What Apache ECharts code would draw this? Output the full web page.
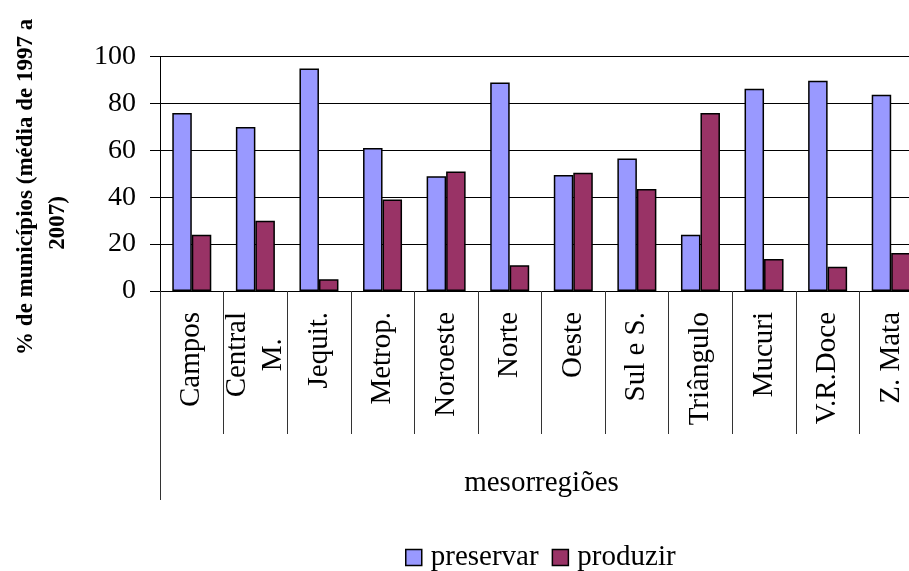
<!DOCTYPE html>
<html>
<head>
<meta charset="utf-8">
<script src="https://cdn.jsdelivr.net/npm/echarts@6/dist/echarts.min.js"></script>
<style>
  html, body { margin: 0; padding: 0; background: #fff; }
  #chart { width: 909px; height: 571px; }
</style>
</head>
<body>
<div id="chart"></div>
<script>
// Mesorregiões and the share of municípios in each group (average 1997–2007)
const categories = ['Campos', 'Central\nM.', 'Jequit.', 'Metrop.', 'Noroeste', 'Norte',
  'Oeste', 'Sul e S.', 'Triângulo', 'Mucuri', 'V.R.Doce', 'Z. Mata'];
const preservar = [76, 70, 95, 61, 49, 89, 49.5, 56.5, 24, 86.3, 89.7, 83.8];
const produzir  = [24, 30, 5, 39, 51, 11, 50.5, 43.5, 76, 13.7, 10.3, 16.2];
const seriesNames = ['preservar', 'produzir'];
const yTicks = { min: 0, max: 100, interval: 20 };
const xTitle = 'mesorregiões';
const yTitleLines = ['% de municípios (média de 1997 a', '2007)'];

const SERIF = '"Liberation Serif", "Times New Roman", serif';
const chart = echarts.init(document.getElementById('chart'), null, { renderer: 'canvas' });

const titleStyle = { fontFamily: SERIF, fontSize: 23, fontWeight: 'bold', color: '#000', lineHeight: 32, align: 'center' };

chart.setOption({
  backgroundColor: '#ffffff',
  animation: false,
  grid: { left: 160, top: 56.7, width: 763, height: 234.3, containLabel: false, outerBoundsMode: 'none' },
  legend: {
    data: seriesNames,
    left: 400, top: 538,
    itemWidth: 16, itemHeight: 16, itemGap: 13,
    icon: 'rect',
    itemStyle: { borderColor: '#000', borderWidth: 1.5 },
    textStyle: { fontFamily: SERIF, fontSize: 29, color: '#000', padding: [0, 0, 0, 4] }
  },
  xAxis: [
    {
      type: 'category',
      data: categories,
      position: 'bottom',
      axisLine: { show: true, lineStyle: { color: '#000', width: 1 } },
      axisTick: { show: true, length: 143, lineStyle: { color: '#333', width: 1 } },
      axisLabel: {
        rotate: 90, margin: 21, color: '#000', fontFamily: SERIF, fontSize: 29,
        interval: 0,
        formatter: function (v) {
          return v.indexOf('\n') >= 0
            ? v.split('\n').map(function (s) { return '{c|' + s + '}'; }).join('\n')
            : v;
        },
        rich: { c: { align: 'center', fontFamily: SERIF, fontSize: 29, lineHeight: 36, color: '#000' } }
      },
      splitLine: { show: false }
    },
    {
      // outer level of the category axis: group title and its long boundary line
      type: 'category',
      data: [xTitle],
      position: 'bottom',
      axisLine: { show: false },
      axisTick: { show: true, length: 209, lineStyle: { color: '#333', width: 1 } },
      axisLabel: { margin: 178, color: '#000', fontFamily: SERIF, fontSize: 29 },
      splitLine: { show: false }
    }
  ],
  yAxis: {
    type: 'value',
    min: yTicks.min, max: yTicks.max, interval: yTicks.interval,
    axisLine: { show: true, lineStyle: { color: '#000', width: 1 } },
    axisTick: { show: true, length: 10, lineStyle: { color: '#000', width: 1 } },
    axisLabel: { margin: 24, color: '#000', fontFamily: SERIF, fontSize: 28 },
    splitLine: { show: true, lineStyle: { color: '#000', width: 1 } },
    name: '{a|' + yTitleLines[0] + '}\n{b|' + yTitleLines[1] + '}',
    nameLocation: 'middle',
    nameRotate: 90,
    nameGap: 86,
    nameTextStyle: Object.assign({}, titleStyle, {
      padding: [0, 26, 0, 0],
      rich: {
        a: titleStyle,
        b: Object.assign({}, titleStyle, { padding: [0, 72, 0, 0] })
      }
    })
  },
  series: [
    {
      name: seriesNames[0], type: 'bar', data: preservar,
      barWidth: 19.5, barGap: '0%',
      itemStyle: { color: '#9999FF', borderColor: '#000', borderWidth: 1.5 }
    },
    {
      name: seriesNames[1], type: 'bar', data: produzir,
      barWidth: 19.5, barGap: '0%',
      itemStyle: { color: '#993366', borderColor: '#000', borderWidth: 1.5 }
    }
  ]
});
</script>
</body>
</html>
